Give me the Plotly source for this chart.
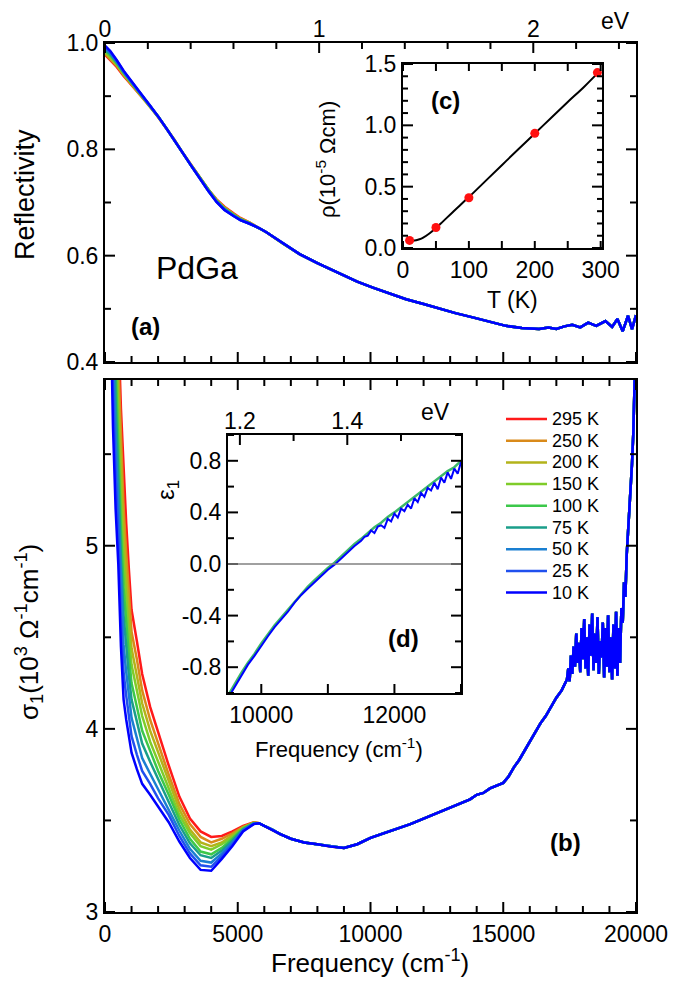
import plotly.graph_objects as go

# ---------------- data ----------------
CM_PER_EV = 8065.54

TEMPS = ["295 K", "250 K", "200 K", "150 K", "100 K", "75 K", "50 K", "25 K", "10 K"]
COLORS = ["#ff1a1a", "#d98a1a", "#b3b31a", "#7fcc2a", "#3cc84a", "#1a9e8a",
          "#1a7fd1", "#2050ee", "#0000ff"]

# reflectivity, temperature dependent part (cm^-1)
W_RLOW = [0, 200, 440, 700, 1065, 1400, 1692, 2000, 2320, 2600, 2946, 3250,
          3573, 3900, 4200, 4500, 4826, 5100, 5451]
R_295 = [0.978, 0.968, 0.955, 0.938, 0.917, 0.898, 0.881, 0.861, 0.839, 0.819, 0.792, 0.770, 0.747, 0.724, 0.706, 0.692, 0.680, 0.671, 0.662]
R_250 = [0.980, 0.970, 0.957, 0.940, 0.918, 0.899, 0.881, 0.861, 0.839, 0.819, 0.792, 0.770, 0.747, 0.724, 0.705, 0.691, 0.679, 0.670, 0.662]
R_200 = [0.982, 0.972, 0.959, 0.941, 0.919, 0.899, 0.882, 0.861, 0.839, 0.819, 0.792, 0.770, 0.746, 0.723, 0.704, 0.690, 0.678, 0.669, 0.661]
R_150 = [0.984, 0.975, 0.961, 0.942, 0.920, 0.900, 0.882, 0.862, 0.839, 0.819, 0.792, 0.769, 0.746, 0.723, 0.704, 0.689, 0.678, 0.669, 0.661]
R_100 = [0.986, 0.977, 0.962, 0.944, 0.921, 0.900, 0.882, 0.862, 0.839, 0.819, 0.792, 0.769, 0.746, 0.722, 0.703, 0.688, 0.677, 0.668, 0.661]
R_75 = [0.988, 0.979, 0.964, 0.945, 0.922, 0.901, 0.883, 0.862, 0.839, 0.819, 0.792, 0.769, 0.746, 0.722, 0.702, 0.688, 0.676, 0.668, 0.660]
R_50 = [0.990, 0.981, 0.965, 0.946, 0.922, 0.901, 0.883, 0.862, 0.839, 0.819, 0.792, 0.769, 0.745, 0.721, 0.702, 0.687, 0.676, 0.667, 0.660]
R_25 = [0.993, 0.983, 0.967, 0.947, 0.923, 0.902, 0.883, 0.862, 0.839, 0.819, 0.792, 0.769, 0.745, 0.721, 0.701, 0.686, 0.675, 0.667, 0.660]
R_10 = [0.995, 0.985, 0.968, 0.948, 0.924, 0.902, 0.883, 0.862, 0.839, 0.819, 0.792, 0.769, 0.745, 0.721, 0.701, 0.686, 0.675, 0.667, 0.660]

# reflectivity, common part above 5800 cm^-1
W_RHIGH = [5800, 6080, 6700, 7330, 8000, 8835, 9500, 10090, 10700, 11340, 12000,
           12600, 13200, 13850, 14500, 15100, 15700, 16350, 16700, 17000, 17300,
           17600, 17900, 18200, 18500, 18850, 19100, 19300, 19500, 19700, 19850, 20000]
R_HIGH = [0.652, 0.644, 0.623, 0.603, 0.586, 0.567, 0.551, 0.540, 0.529, 0.518, 0.509,
          0.500, 0.492, 0.484, 0.476, 0.468, 0.464, 0.462, 0.465, 0.462, 0.467,
          0.470, 0.465, 0.474, 0.468, 0.477, 0.466, 0.481, 0.458, 0.487, 0.462, 0.488]

# optical conductivity (10^3 Ohm^-1 cm^-1), temperature dependent part
W_SLOW = [200, 300, 400, 500, 600, 700, 800, 900, 1000, 1200, 1400, 1700, 2000,
          2400, 2800, 3200, 3600, 4000, 4400, 4800, 5200, 5600]
S_295 = [8.50, 7.60, 6.80, 6.20, 5.75, 5.40, 5.12, 4.87, 4.65, 4.48, 4.30, 4.12, 3.98, 3.80, 3.63, 3.51, 3.44, 3.41, 3.415, 3.44, 3.47, 3.49]
S_250 = [8.19, 7.31, 6.56, 6.01, 5.56, 5.21, 4.96, 4.73, 4.53, 4.38, 4.21, 4.05, 3.92, 3.75, 3.59, 3.48, 3.41, 3.38, 3.40, 3.43, 3.465, 3.488]
S_200 = [7.93, 7.07, 6.37, 5.85, 5.40, 5.07, 4.83, 4.62, 4.44, 4.29, 4.14, 3.99, 3.87, 3.72, 3.56, 3.45, 3.38, 3.36, 3.38, 3.42, 3.46, 3.487]
S_150 = [7.68, 6.84, 6.18, 5.69, 5.24, 4.92, 4.70, 4.51, 4.35, 4.21, 4.07, 3.93, 3.82, 3.68, 3.53, 3.43, 3.36, 3.34, 3.37, 3.41, 3.46, 3.486]
S_100 = [7.43, 6.61, 5.98, 5.54, 5.09, 4.77, 4.57, 4.40, 4.25, 4.12, 3.99, 3.88, 3.77, 3.64, 3.505, 3.40, 3.33, 3.315, 3.35, 3.40, 3.455, 3.485]
S_75 = [7.18, 6.37, 5.79, 5.38, 4.93, 4.62, 4.45, 4.29, 4.16, 4.04, 3.92, 3.82, 3.725, 3.605, 3.475, 3.375, 3.31, 3.295, 3.335, 3.39, 3.45, 3.484]
S_50 = [6.90, 6.12, 5.58, 5.21, 4.76, 4.46, 4.31, 4.17, 4.06, 3.95, 3.84, 3.755, 3.67, 3.565, 3.445, 3.345, 3.28, 3.27, 3.32, 3.38, 3.447, 3.482]
S_25 = [6.65, 5.88, 5.39, 5.06, 4.61, 4.31, 4.18, 4.06, 3.96, 3.86, 3.77, 3.70, 3.62, 3.53, 3.415, 3.32, 3.255, 3.247, 3.305, 3.37, 3.444, 3.481]
S_10 = [6.40, 5.65, 5.20, 4.90, 4.45, 4.16, 4.05, 3.95, 3.87, 3.78, 3.70, 3.64, 3.575, 3.49, 3.385, 3.295, 3.23, 3.225, 3.29, 3.36, 3.44, 3.48]

# optical conductivity, common part above 5800 cm^-1
W_SHIGH = [5800, 6000, 6300, 6600, 7000, 7500, 8000, 8500, 9000, 9500, 10000, 10500,
           11000, 11500, 12000, 12500, 13000, 13250, 13500, 13750, 14000, 14250,
           14500, 14750, 15000, 15200, 15400, 15600, 15800, 16000, 16200, 16400,
           16600, 16800, 17000, 17200, 17400, 17450, 17500, 17550, 17600, 17650,
           17700, 17750, 17800, 17850, 17900, 17950, 18000, 18050, 18100, 18150,
           18200, 18250, 18300, 18350, 18400, 18450, 18500, 18550, 18600, 18650,
           18700, 18750, 18800, 18850, 18900, 18950, 19000, 19050, 19100, 19150,
           19200, 19250, 19300, 19350, 19400, 19450, 19500, 19550, 19600, 19650,
           19700, 19750, 19800, 19850, 19900, 19950, 20000]
S_HIGH = [3.485, 3.47, 3.45, 3.425, 3.40, 3.38, 3.37, 3.357, 3.35, 3.37, 3.405, 3.43,
          3.455, 3.48, 3.51, 3.54, 3.57, 3.585, 3.60, 3.615, 3.64, 3.65,
          3.675, 3.69, 3.705, 3.74, 3.79, 3.83, 3.88, 3.93, 3.975, 4.03,
          4.07, 4.12, 4.17, 4.21, 4.27, 4.33, 4.26, 4.40, 4.30, 4.45,
          4.34, 4.52, 4.36, 4.47, 4.31, 4.55, 4.38, 4.60, 4.33, 4.50,
          4.29, 4.57, 4.40, 4.63, 4.32, 4.52, 4.36, 4.61, 4.30, 4.48,
          4.39, 4.58, 4.28, 4.55, 4.34, 4.62, 4.31, 4.50, 4.27, 4.57,
          4.33, 4.64, 4.29, 4.55, 4.36, 4.66, 4.58, 4.80, 4.72, 4.95,
          5.06, 5.18, 5.32, 5.45, 5.62, 5.85, 6.20]

# resistivity (10^-5 Ohm cm)
T_PTS = [10, 50, 100, 200, 295]
RHO_PTS = [0.062, 0.167, 0.41, 0.935, 1.43]
T_FIT = [10, 15, 20, 25, 30, 40, 50, 60, 75, 100, 125, 150, 175, 200, 225, 250, 275, 298]
RHO_FIT = [0.060, 0.060, 0.064, 0.071, 0.082, 0.118, 0.163, 0.213, 0.290, 0.415,
           0.545, 0.675, 0.805, 0.933, 1.062, 1.19, 1.315, 1.44]

# dielectric function epsilon_1 near the zero crossing
W_EPS_G = [9500, 9600, 9700, 9800, 9900, 10000, 10100, 10200, 10300, 10400, 10500,
           10600, 10700, 10800, 10900, 11000, 11100, 11200, 11300, 11400, 11500,
           11600, 11700, 11800, 11900, 12000, 12100, 12200, 12300, 12400, 12500,
           12600, 12700, 12800, 12900, 13000]
EPS_100 = [-1.02, -0.93, -0.845, -0.765, -0.695, -0.615, -0.545, -0.475, -0.415, -0.355, -0.29,
           -0.23, -0.175, -0.125, -0.075, -0.03, 0.01, 0.06, 0.105, 0.155, 0.195,
           0.24, 0.285, 0.32, 0.365, 0.40, 0.44, 0.48, 0.52, 0.56, 0.60,
           0.64, 0.68, 0.72, 0.75, 0.80]
W_EPS_B = [9500, 9600, 9700, 9800, 9900, 10000, 10100, 10200, 10300, 10400, 10500,
           10600, 10700, 10800, 10900, 11000, 11100, 11200, 11300, 11400, 11500,
           11550, 11600, 11650, 11700, 11750, 11800, 11850, 11900, 11950, 12000,
           12050, 12100, 12150, 12200, 12250, 12300, 12350, 12400, 12450, 12500,
           12550, 12600, 12650, 12700, 12750, 12800, 12850, 12900, 12950, 13000]
EPS_10 = [-1.04, -0.95, -0.86, -0.78, -0.71, -0.63, -0.56, -0.49, -0.43, -0.37, -0.30,
          -0.24, -0.19, -0.14, -0.09, -0.045, -0.005, 0.045, 0.09, 0.14, 0.18,
          0.21, 0.22, 0.26, 0.24, 0.29, 0.30, 0.28, 0.35, 0.33, 0.39,
          0.36, 0.43, 0.41, 0.46, 0.43, 0.51, 0.48, 0.55, 0.52, 0.59,
          0.57, 0.63, 0.58, 0.67, 0.63, 0.71, 0.66, 0.74, 0.70, 0.79]

R_LOW = [R_295, R_250, R_200, R_150, R_100, R_75, R_50, R_25, R_10]
S_LOW = [S_295, S_250, S_200, S_150, S_100, S_75, S_50, S_25, S_10]

# ---------------- figure ----------------
W, H = 687, 981
FONT = "Arial, Liberation Sans, sans-serif"
BLACK = "#000000"

EV_MAIN = [0, 20000 / CM_PER_EV]
EV_INSET = [9500 / CM_PER_EV, 13000 / CM_PER_EV]

fig = go.Figure()

for col, rlow in zip(COLORS, R_LOW):
    fig.add_trace(go.Scatter(x=W_RLOW + W_RHIGH, y=rlow + R_HIGH, mode="lines",
                             line=dict(color=col, width=2.5), showlegend=False,
                             xaxis="x", yaxis="y", hoverinfo="skip"))
for name, col, slow in zip(TEMPS, COLORS, S_LOW):
    fig.add_trace(go.Scatter(x=W_SLOW + W_SHIGH, y=slow + S_HIGH, mode="lines",
                             name=name, line=dict(color=col, width=2.5), showlegend=False,
                             xaxis="x3", yaxis="y2"))

# inset (c): resistivity
fig.add_trace(go.Scatter(x=T_FIT, y=RHO_FIT, mode="lines", line=dict(color=BLACK, width=2),
                         line_shape="spline", showlegend=False, xaxis="x4", yaxis="y3"))
fig.add_trace(go.Scatter(x=T_PTS, y=RHO_PTS, mode="markers",
                         marker=dict(color="#ff1010", size=9), showlegend=False,
                         xaxis="x4", yaxis="y3", cliponaxis=False))

# inset (d): epsilon_1
fig.add_trace(go.Scatter(x=W_EPS_G, y=EPS_100, mode="lines", line=dict(color="#3cb86a", width=2.5),
                         showlegend=False, xaxis="x5", yaxis="y4"))
fig.add_trace(go.Scatter(x=W_EPS_B, y=EPS_10, mode="lines", line=dict(color="#0000ff", width=2),
                         showlegend=False, xaxis="x5", yaxis="y4"))

# empty traces so that the energy scales on top get drawn
fig.add_trace(go.Scatter(x=[], y=[], xaxis="x2", yaxis="y", showlegend=False))
fig.add_trace(go.Scatter(x=[], y=[], xaxis="x6", yaxis="y4", showlegend=False))


def px(x):
    return x / W


def py(y):
    return 1 - y / H


XDOM = [px(105), px(636)]
TICKF = dict(family=FONT, size=23, color=BLACK)
frame = dict(linecolor=BLACK, linewidth=2, showgrid=False, zeroline=False,
             automargin=False, tickfont=TICKF, ticks="", showline=True, mirror=True)
labels_only = dict(showgrid=False, zeroline=False, automargin=False, tickfont=TICKF,
                   ticks="", showline=False)

fig.update_layout(
    template="none",
    width=W, height=H, autosize=False, margin=dict(l=0, r=0, t=0, b=0, pad=0),
    paper_bgcolor="white", plot_bgcolor="white",
    font=dict(family=FONT, color=BLACK), showlegend=False,
    # (a) reflectivity
    xaxis=dict(domain=XDOM, anchor="y", range=[0, 20000], showticklabels=False, **frame),
    xaxis2=dict(overlaying="x", side="top", anchor="y", range=EV_MAIN,
                tickvals=[0, 1, 2], **labels_only),
    yaxis=dict(domain=[py(362), py(43)], anchor="x", range=[0.4, 1.0], dtick=0.2,
               tickformat=".1f", **frame),
    # (b) conductivity
    xaxis3=dict(domain=XDOM, anchor="y2", range=[0, 20000], dtick=5000,
                tickformat="d", **frame),
    yaxis2=dict(domain=[py(912), py(380)], anchor="x3", range=[3, 5.905], dtick=1, **frame),
    # (c) resistivity inset
    xaxis4=dict(domain=[px(403), px(602)], anchor="y3", range=[0, 302], dtick=100, **frame),
    yaxis3=dict(domain=[py(248), py(64)], anchor="x4", range=[0, 1.5], dtick=0.5,
                tickformat=".1f", **frame),
    # (d) epsilon_1 inset
    xaxis5=dict(domain=[px(228), px(461)], anchor="y4", range=[9500, 13000], dtick=2000,
                tick0=0, tickformat="d", **frame),
    xaxis6=dict(overlaying="x5", side="top", anchor="y4", range=EV_INSET,
                tickvals=[1.2, 1.4], ticktext=["1.2", "1.4"], **labels_only),
    yaxis4=dict(domain=[py(693), py(435)], anchor="x5", range=[-1, 1],
                tickvals=[-0.8, -0.4, 0, 0.4, 0.8],
                ticktext=["-0.8", "-0.4", "0.0", "0.4", "0.8"], **frame),
)


# ---- tick marks pointing into each frame ----
def tick_values(lo, hi, step, major, first=None):
    """Positions from lo to hi every `step`; flag the ones on the `major` grid."""
    out = []
    k0 = int(round((first if first is not None else lo) / step))
    k = k0
    while k * step <= hi + 1e-9:
        v = k * step
        if v >= lo - 1e-9:
            is_major = abs(v / major - round(v / major)) < 1e-6
            out.append((v, is_major))
        k += 1
    return out


tick_shapes = []


def ticks_on_vertical_edge(yref, edge_px, sign, lo, hi, step, major, lmaj, lmin):
    # ticks along a left (+1) or right (-1) frame edge
    for v, is_major in tick_values(lo, hi, step, major):
        ln = lmaj if is_major else lmin
        tick_shapes.append(dict(type="line", xref="paper", yref=yref,
                                x0=px(edge_px), x1=px(edge_px + sign * ln), y0=v, y1=v,
                                line=dict(color=BLACK, width=2), layer="above"))


def ticks_on_horizontal_edge(xref, edge_px, sign, lo, hi, step, major, lmaj, lmin):
    # ticks along a top (+1, pointing down) or bottom (-1, pointing up) frame edge
    for v, is_major in tick_values(lo, hi, step, major):
        ln = lmaj if is_major else lmin
        tick_shapes.append(dict(type="line", xref=xref, yref="paper",
                                x0=v, x1=v, y0=py(edge_px), y1=py(edge_px + sign * ln),
                                line=dict(color=BLACK, width=2), layer="above"))


# (a)
for edge, sgn in ((105, +1), (636, -1)):
    ticks_on_vertical_edge("y", edge, sgn, 0.4, 1.0, 0.1, 0.2, 10, 6)
ticks_on_horizontal_edge("x", 362, -1, 0, 20000, 1000, 5000, 10, 6)
ticks_on_horizontal_edge("x2", 43, +1, 0, EV_MAIN[1], 0.2, 1, 10, 6)
# (b)
for edge, sgn in ((105, +1), (636, -1)):
    ticks_on_vertical_edge("y2", edge, sgn, 3, 5.9, 0.5, 1, 10, 6)
ticks_on_horizontal_edge("x3", 380, +1, 0, 20000, 1000, 5000, 10, 6)
ticks_on_horizontal_edge("x3", 912, -1, 0, 20000, 1000, 5000, 10, 6)
# (c)
for edge, sgn in ((403, +1), (602, -1)):
    ticks_on_vertical_edge("y3", edge, sgn, 0, 1.5, 0.1, 0.5, 10, 5)
ticks_on_horizontal_edge("x4", 248, -1, 0, 300, 50, 50, 7, 7)
ticks_on_horizontal_edge("x4", 64, +1, 0, 300, 50, 50, 7, 7)
# (d)
for edge, sgn in ((228, +1), (461, -1)):
    ticks_on_vertical_edge("y4", edge, sgn, -1, 1, 0.2, 0.4, 10, 6)
ticks_on_horizontal_edge("x5", 693, -1, 9500, 13000, 1000, 1000, 9, 9)
ticks_on_horizontal_edge("x6", 435, +1, 1.2, 1.5, 0.1, 0.2, 10, 6)

# zero line of epsilon_1
tick_shapes.append(dict(type="line", xref="x5", yref="y4", x0=9500, x1=13000, y0=0, y1=0,
                        line=dict(color="#808080", width=1.5)))

# legend of the conductivity curves
for i, (name, col) in enumerate(zip(TEMPS, COLORS)):
    yy = py(419 + i * 21.7)
    tick_shapes.append(dict(type="line", xref="paper", yref="paper", x0=px(506), x1=px(547),
                            y0=yy, y1=yy, line=dict(color=col, width=2.5)))
    fig.add_annotation(text=name, x=px(550), y=yy, xref="paper", yref="paper",
                       showarrow=False, xanchor="left", yanchor="middle",
                       font=dict(family=FONT, size=18, color=BLACK))

fig.update_layout(shapes=tick_shapes)


def label(text, x, y, size=22, angle=0, bold=False):
    if bold:
        text = "<b>" + text + "</b>"
    fig.add_annotation(text=text, x=px(x), y=py(y), xref="paper", yref="paper",
                       showarrow=False, textangle=angle, xanchor="center", yanchor="middle",
                       font=dict(family=FONT, size=size, color=BLACK))


label("eV", 615, 21, size=23)
label("eV", 435, 412, size=23)
label("PdGa", 197, 268, size=32)
label("(a)", 145, 327, size=24, bold=True)
label("(b)", 565, 842, size=24, bold=True)
label("(c)", 445, 100, size=24, bold=True)
label("(d)", 403, 638, size=24, bold=True)
label("Reflectivity", 25, 195, size=27, angle=-90)
label("σ<sub>1</sub>(10<sup>3</sup> Ω<sup>-1</sup>cm<sup>-1</sup>)", 29, 632, size=26, angle=-90)
label("Frequency (cm<sup>-1</sup>)", 370, 961, size=26)
label("ρ(10<sup>-5</sup> Ωcm)", 326, 160, size=22, angle=-90)
label("T (K)", 512, 300, size=23)
label("ε<sub>1</sub>", 167, 490, size=24, angle=-90)
label("Frequency (cm<sup>-1</sup>)", 339, 748, size=22)

fig.write_html("out.html")
